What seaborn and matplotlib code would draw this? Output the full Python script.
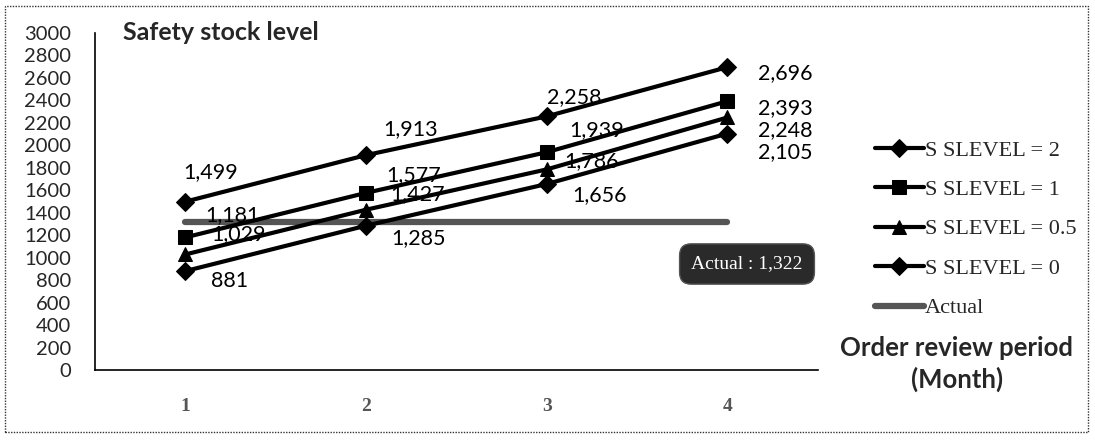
import matplotlib
matplotlib.use("Agg")
import matplotlib.pyplot as plt
import seaborn as sns
import pandas as pd
from matplotlib.patches import Rectangle

# Order review periods (months)
periods = [1, 2, 3, 4]

# Safety stock level for each service-level factor
slevel_2 = [1499, 1913, 2258, 2696]
slevel_1 = [1181, 1577, 1939, 2393]
slevel_05 = [1029, 1427, 1786, 2248]
slevel_0 = [881, 1285, 1656, 2105]
actual_value = 1322
actual = [actual_value] * len(periods)

series_names = ["S SLEVEL = 2", "S SLEVEL = 1", "S SLEVEL = 0.5", "S SLEVEL = 0"]
series_values = [slevel_2, slevel_1, slevel_05, slevel_0]
series_markers = ["D", "s", "^", "D"]

# label offsets (points) for the value annotations, per series and period
label_offsets = [
    [(18, 21), (32, 19), (20, 14), (42, -4)],
    [(34, 16), (34, 13), (36, 16), (42, -5)],
    [(38, 15), (37, 11), (32, 6), (42, -9)],
    [(32, -7), (38, -9), (38, -8), (42, -13)],
]

sns.set_theme(style="white")
plt.rcParams["font.family"] = ["Lato", "DejaVu Sans"]

fig = plt.figure(figsize=(10.95, 4.4), dpi=100)
ax = fig.add_axes([0.0868, 0.159, 0.660, 0.766])

for name, vals, mk in zip(series_names, series_values, series_markers):
    df = pd.DataFrame({"period": periods, "value": vals})
    sns.lineplot(data=df, x="period", y="value", ax=ax, color="black",
                 linewidth=3, marker=mk, markersize=10 if mk != "D" else 9,
                 markeredgecolor="black", markerfacecolor="black", label=name,
                 zorder=3)

df_act = pd.DataFrame({"period": periods, "value": actual})
sns.lineplot(data=df_act, x="period", y="value", ax=ax, color="#555555",
             linewidth=4.5, label="Actual", zorder=2)

# value labels
for vals, offs in zip(series_values, label_offsets):
    for x, v, (dx, dy) in zip(periods, vals, offs):
        ax.annotate(f"{v:,}", xy=(x, v), xytext=(dx, dy), textcoords="offset points",
                    ha="center", va="center", fontsize=15.5, color="black", zorder=4)

# Actual value box
ax.annotate(f"Actual : {actual_value:,}", xy=(4, actual_value), xytext=(747, 176),
            textcoords="figure pixels", ha="center", va="center",
            fontsize=14, color="white", family=["Liberation Serif"],
            bbox=dict(boxstyle="round,pad=0.6", fc="#2a2a2a", ec="#555555"))

ax.set_xlim(0.5, 4.5)
ax.set_ylim(0, 3000)
ax.set_yticks(range(0, 3001, 200))
ax.set_yticklabels([str(t) for t in range(0, 3001, 200)], fontsize=14.5)
ax.set_xticks(periods)
ax.set_xticklabels([str(p) for p in periods], fontsize=14, color="#555555",
                   family=["Liberation Serif"], fontweight="bold")
ax.tick_params(axis="y", length=0, pad=17)
ax.tick_params(axis="x", length=0, pad=20)
ax.set_xlabel("")
ax.set_ylabel("")

for side in ["top", "right"]:
    ax.spines[side].set_visible(False)
for side in ["left", "bottom"]:
    ax.spines[side].set_color("black")
    ax.spines[side].set_linewidth(1.2)

# chart title and axis title
fig.text(123 / 1095, 1 - 33 / 440, "Safety stock level", fontsize=18,
         fontweight="bold", ha="left", va="center")
fig.text(957 / 1095, 1 - 364 / 440, "Order review period\n(Month)", fontsize=18.5,
         fontweight="bold", ha="center", va="center", linespacing=1.3)

# legend
handles, labels = ax.get_legend_handles_labels()
leg = fig.legend(handles, labels, loc="upper left",
                 bbox_to_anchor=(855 / 1095, 1 - 120 / 440),
                 frameon=False, handlelength=2.2, handletextpad=0.05,
                 labelspacing=0.85, prop={"family": "Liberation Serif", "size": 16})
if ax.get_legend():
    ax.get_legend().remove()

# dotted outer frame
fig.patches.append(Rectangle((5 / 1095, 8 / 440), 1083 / 1095, 426 / 440,
                             transform=fig.transFigure, fill=False,
                             edgecolor="#333333", linestyle=(0, (1, 1)),
                             linewidth=1.0))

fig.savefig("out.png", dpi=100, facecolor="white")
